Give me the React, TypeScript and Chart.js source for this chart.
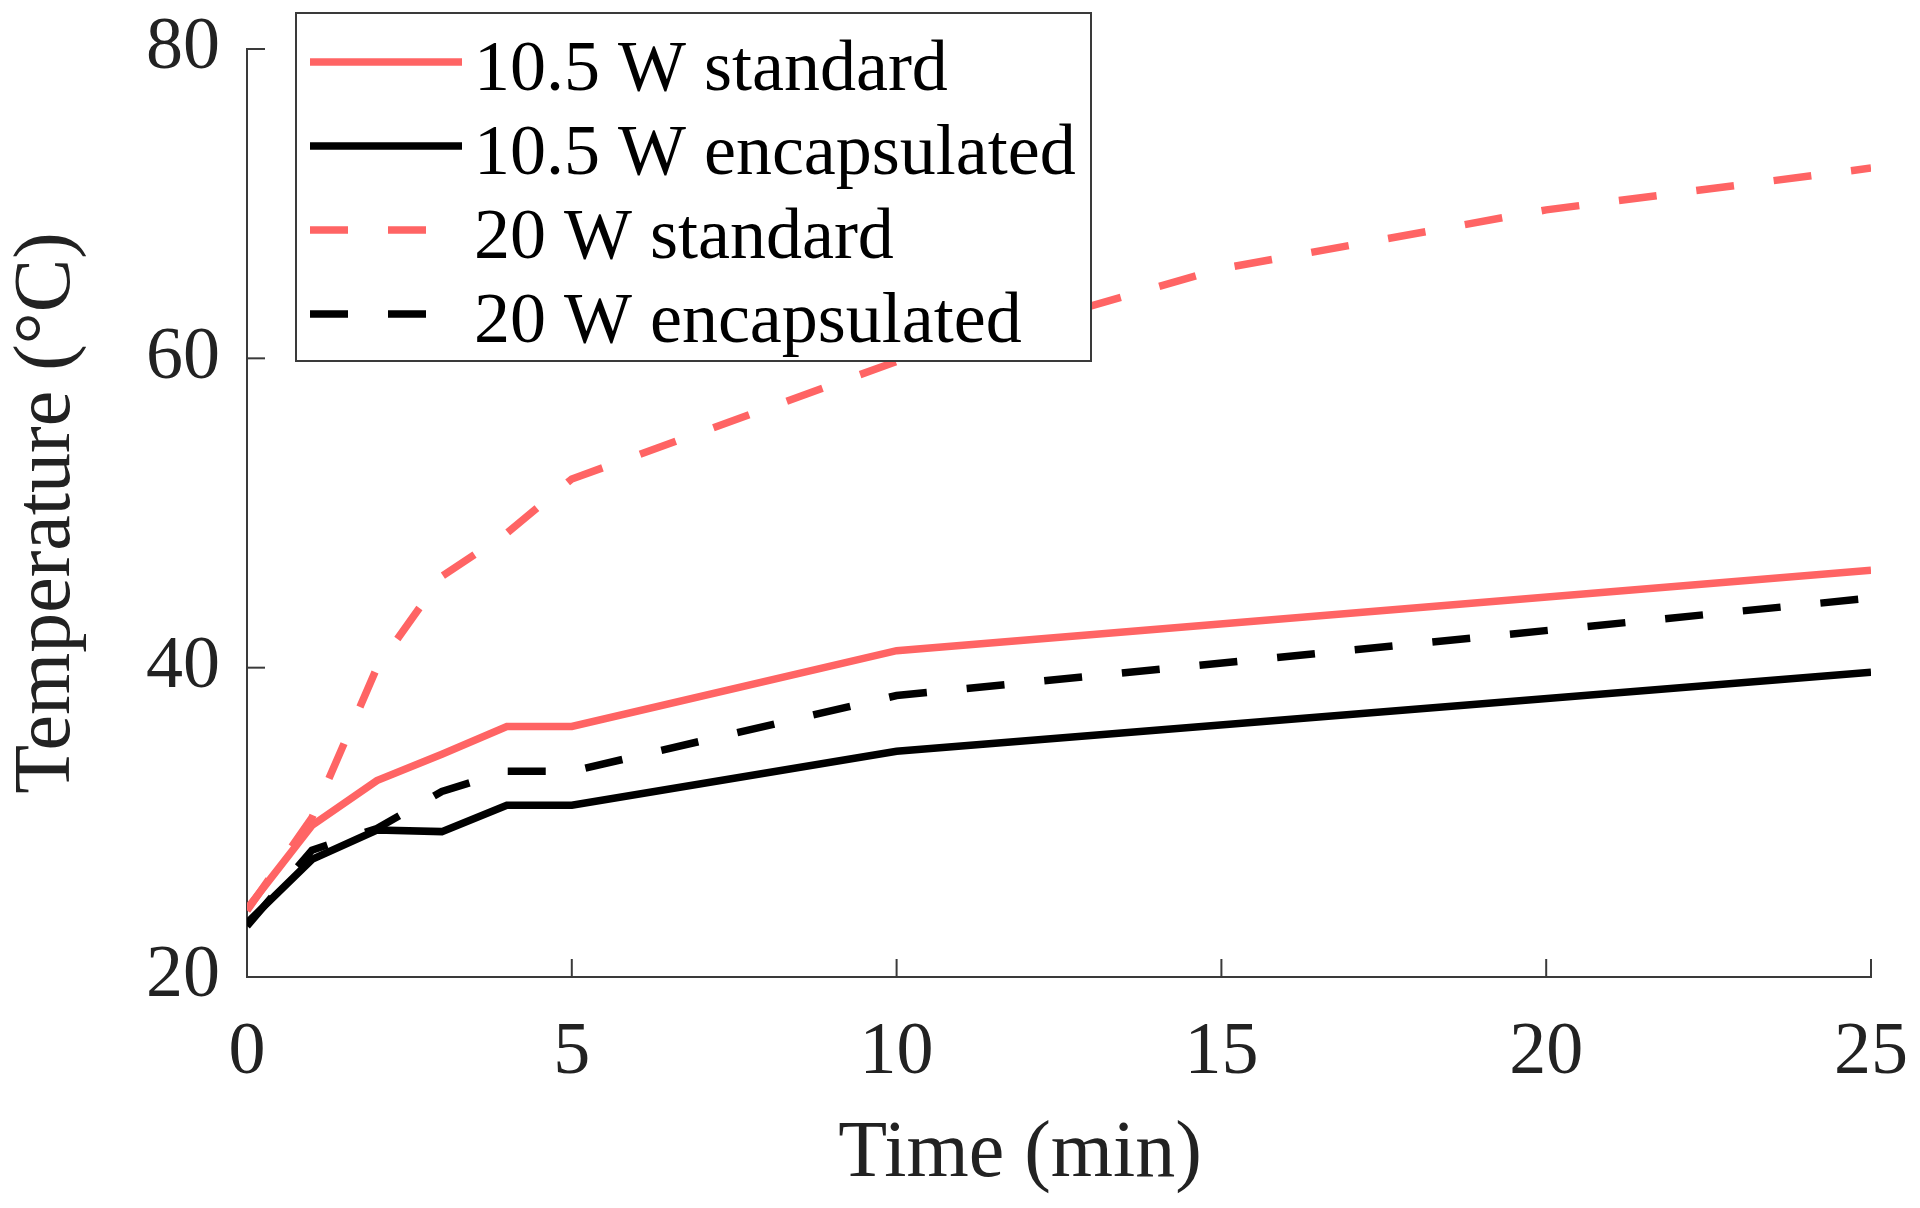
import React, { useEffect, useRef } from "react";
import { Chart, registerables } from "chart.js";

Chart.register(...registerables);

// Time axis (min)
const timeShort = [0, 1, 2, 3, 4, 5, 10, 25];
const timeLong = [0, 1, 2, 3, 4, 5, 10, 15, 20, 25];

// Series values (°C)
const std105 = [24.4, 29.8, 32.7, 34.4, 36.2, 36.2, 41.1, 46.3];
const enc105 = [23.5, 27.6, 29.5, 29.4, 31.1, 31.1, 34.6, 39.7];
const std20 = [24.3, 30.3, 40.0, 45.9, 48.7, 52.2, 59.8, 65.8, 69.6, 72.3];
const enc20 = [23.3, 28.2, 29.6, 32.0, 33.3, 33.3, 38.2, 44.5];

const seriesLabels = [
  "10.5 W standard",
  "10.5 W encapsulated",
  "20 W standard",
  "20 W encapsulated",
];

const xTitle = "Time (min)";
const yTitle = "Temperature (°C)";

const xTickStep = 5;
const yTickStep = 20;

const RED = "#ff6464";
const BLACK = "#000000";
const AXIS = "#3a3a3a";
const FONT = '"Liberation Serif", "Times New Roman", serif';

const toPoints = (xs: number[], ys: number[]) => xs.map((x, i) => ({ x, y: ys[i] }));

const inwardTicks = {
  id: "inwardTicks",
  beforeDatasetsDraw(chart: any) {
    const { ctx, chartArea, scales } = chart;
    const xs = scales.x;
    const ys = scales.y;
    const len = 18;
    ctx.save();
    ctx.strokeStyle = AXIS;
    ctx.lineWidth = 2;
    xs.ticks.forEach((t: any) => {
      const px = xs.getPixelForValue(t.value);
      ctx.beginPath();
      ctx.moveTo(px, chartArea.bottom);
      ctx.lineTo(px, chartArea.bottom - len);
      ctx.stroke();
    });
    ys.ticks.forEach((t: any) => {
      const py = ys.getPixelForValue(t.value);
      ctx.beginPath();
      ctx.moveTo(chartArea.left, py);
      ctx.lineTo(chartArea.left + len, py);
      ctx.stroke();
    });
    ctx.restore();
  },
};

const xTitlePlugin = {
  id: "xTitlePlugin",
  afterDraw(chart: any) {
    const { ctx, chartArea } = chart;
    ctx.save();
    ctx.fillStyle = "#222";
    ctx.font = `80px ${FONT}`;
    ctx.textAlign = "center";
    ctx.textBaseline = "middle";
    ctx.fillText(xTitle, (chartArea.left + chartArea.right) / 2 - 39, chart.height - 53);
    ctx.restore();
  },
};

const boxLegend = {
  id: "boxLegend",
  afterDatasetsDraw(chart: any) {
    const { ctx, chartArea } = chart;
    const left = chartArea.left + 49;
    const top = chartArea.top - 36;
    const w = 795;
    const h = 348;
    ctx.save();
    ctx.fillStyle = "#ffffff";
    ctx.fillRect(left, top, w, h);
    ctx.strokeStyle = AXIS;
    ctx.lineWidth = 2;
    ctx.strokeRect(left, top, w, h);
    chart.data.datasets.forEach((ds: any, i: number) => {
      const cy = top + 49 + i * 84;
      ctx.beginPath();
      ctx.setLineDash(ds.borderDash || []);
      ctx.lineCap = "butt";
      ctx.strokeStyle = ds.borderColor;
      ctx.lineWidth = ds.borderWidth;
      ctx.moveTo(left + 14, cy);
      ctx.lineTo(left + 166, cy);
      ctx.stroke();
      ctx.setLineDash([]);
      ctx.fillStyle = "#000000";
      ctx.font = `72px ${FONT}`;
      ctx.textBaseline = "alphabetic";
      ctx.textAlign = "left";
      ctx.fillText(ds.label, left + 178, cy + 28);
    });
    ctx.restore();
  },
};

export default function App() {
  const canvasRef = useRef<HTMLCanvasElement | null>(null);

  useEffect(() => {
    const canvas = canvasRef.current;
    if (!canvas) return;
    const lineBase = { fill: false, pointRadius: 0, tension: 0, borderWidth: 7.5, borderCapStyle: "butt", borderJoinStyle: "miter" };
    const chart = new Chart(canvas, {
      type: "line",
      data: {
        datasets: [
          { ...lineBase, label: seriesLabels[0], data: toPoints(timeShort, std105), borderColor: RED, backgroundColor: RED },
          { ...lineBase, label: seriesLabels[1], data: toPoints(timeShort, enc105), borderColor: BLACK, backgroundColor: BLACK },
          { ...lineBase, label: seriesLabels[2], data: toPoints(timeLong, std20), borderColor: RED, backgroundColor: RED, borderDash: [38, 40] },
          { ...lineBase, label: seriesLabels[3], data: toPoints(timeShort, enc20), borderColor: BLACK, backgroundColor: BLACK, borderDash: [38, 40] },
        ] as any,
      },
      options: {
        responsive: false,
        maintainAspectRatio: false,
        animation: false,
        layout: { padding: { left: 0, right: 49, top: 49, bottom: 0 } },
        plugins: {
          legend: { display: false },
          tooltip: { enabled: false },
        },
        scales: {
          x: {
            type: "linear",
            min: 0,
            max: 25,
            ticks: { stepSize: xTickStep, font: { family: FONT, size: 74 }, color: "#222", padding: 32, maxRotation: 0 },
            grid: { display: false, drawTicks: false },
            border: { display: true, color: AXIS, width: 2 },
            title: { display: false },
            afterFit(scale: any) {
              scale.height = 231;
              scale.paddingLeft = 0;
              scale.paddingRight = 0;
            },
          },
          y: {
            type: "linear",
            min: 20,
            max: 80,
            ticks: { stepSize: yTickStep, font: { family: FONT, size: 74 }, color: "#222", padding: 27 },
            grid: { display: false, drawTicks: false },
            border: { display: true, color: AXIS, width: 2 },
            title: { display: true, text: yTitle, font: { family: FONT, size: 80 }, color: "#222", padding: { top: 0, bottom: 0 } },
            afterFit(scale: any) {
              scale.width = 247;
              scale.paddingTop = 0;
              scale.paddingBottom = 0;
            },
          },
        },
      } as any,
      plugins: [inwardTicks, boxLegend, xTitlePlugin],
    });
    return () => chart.destroy();
  }, []);

  return (
    <div style={{ position: "absolute", left: 0, top: 0, width: 1920, height: 1208, background: "#fff" }}>
      <canvas ref={canvasRef} width={1920} height={1208} style={{ display: "block" }} />
    </div>
  );
}
